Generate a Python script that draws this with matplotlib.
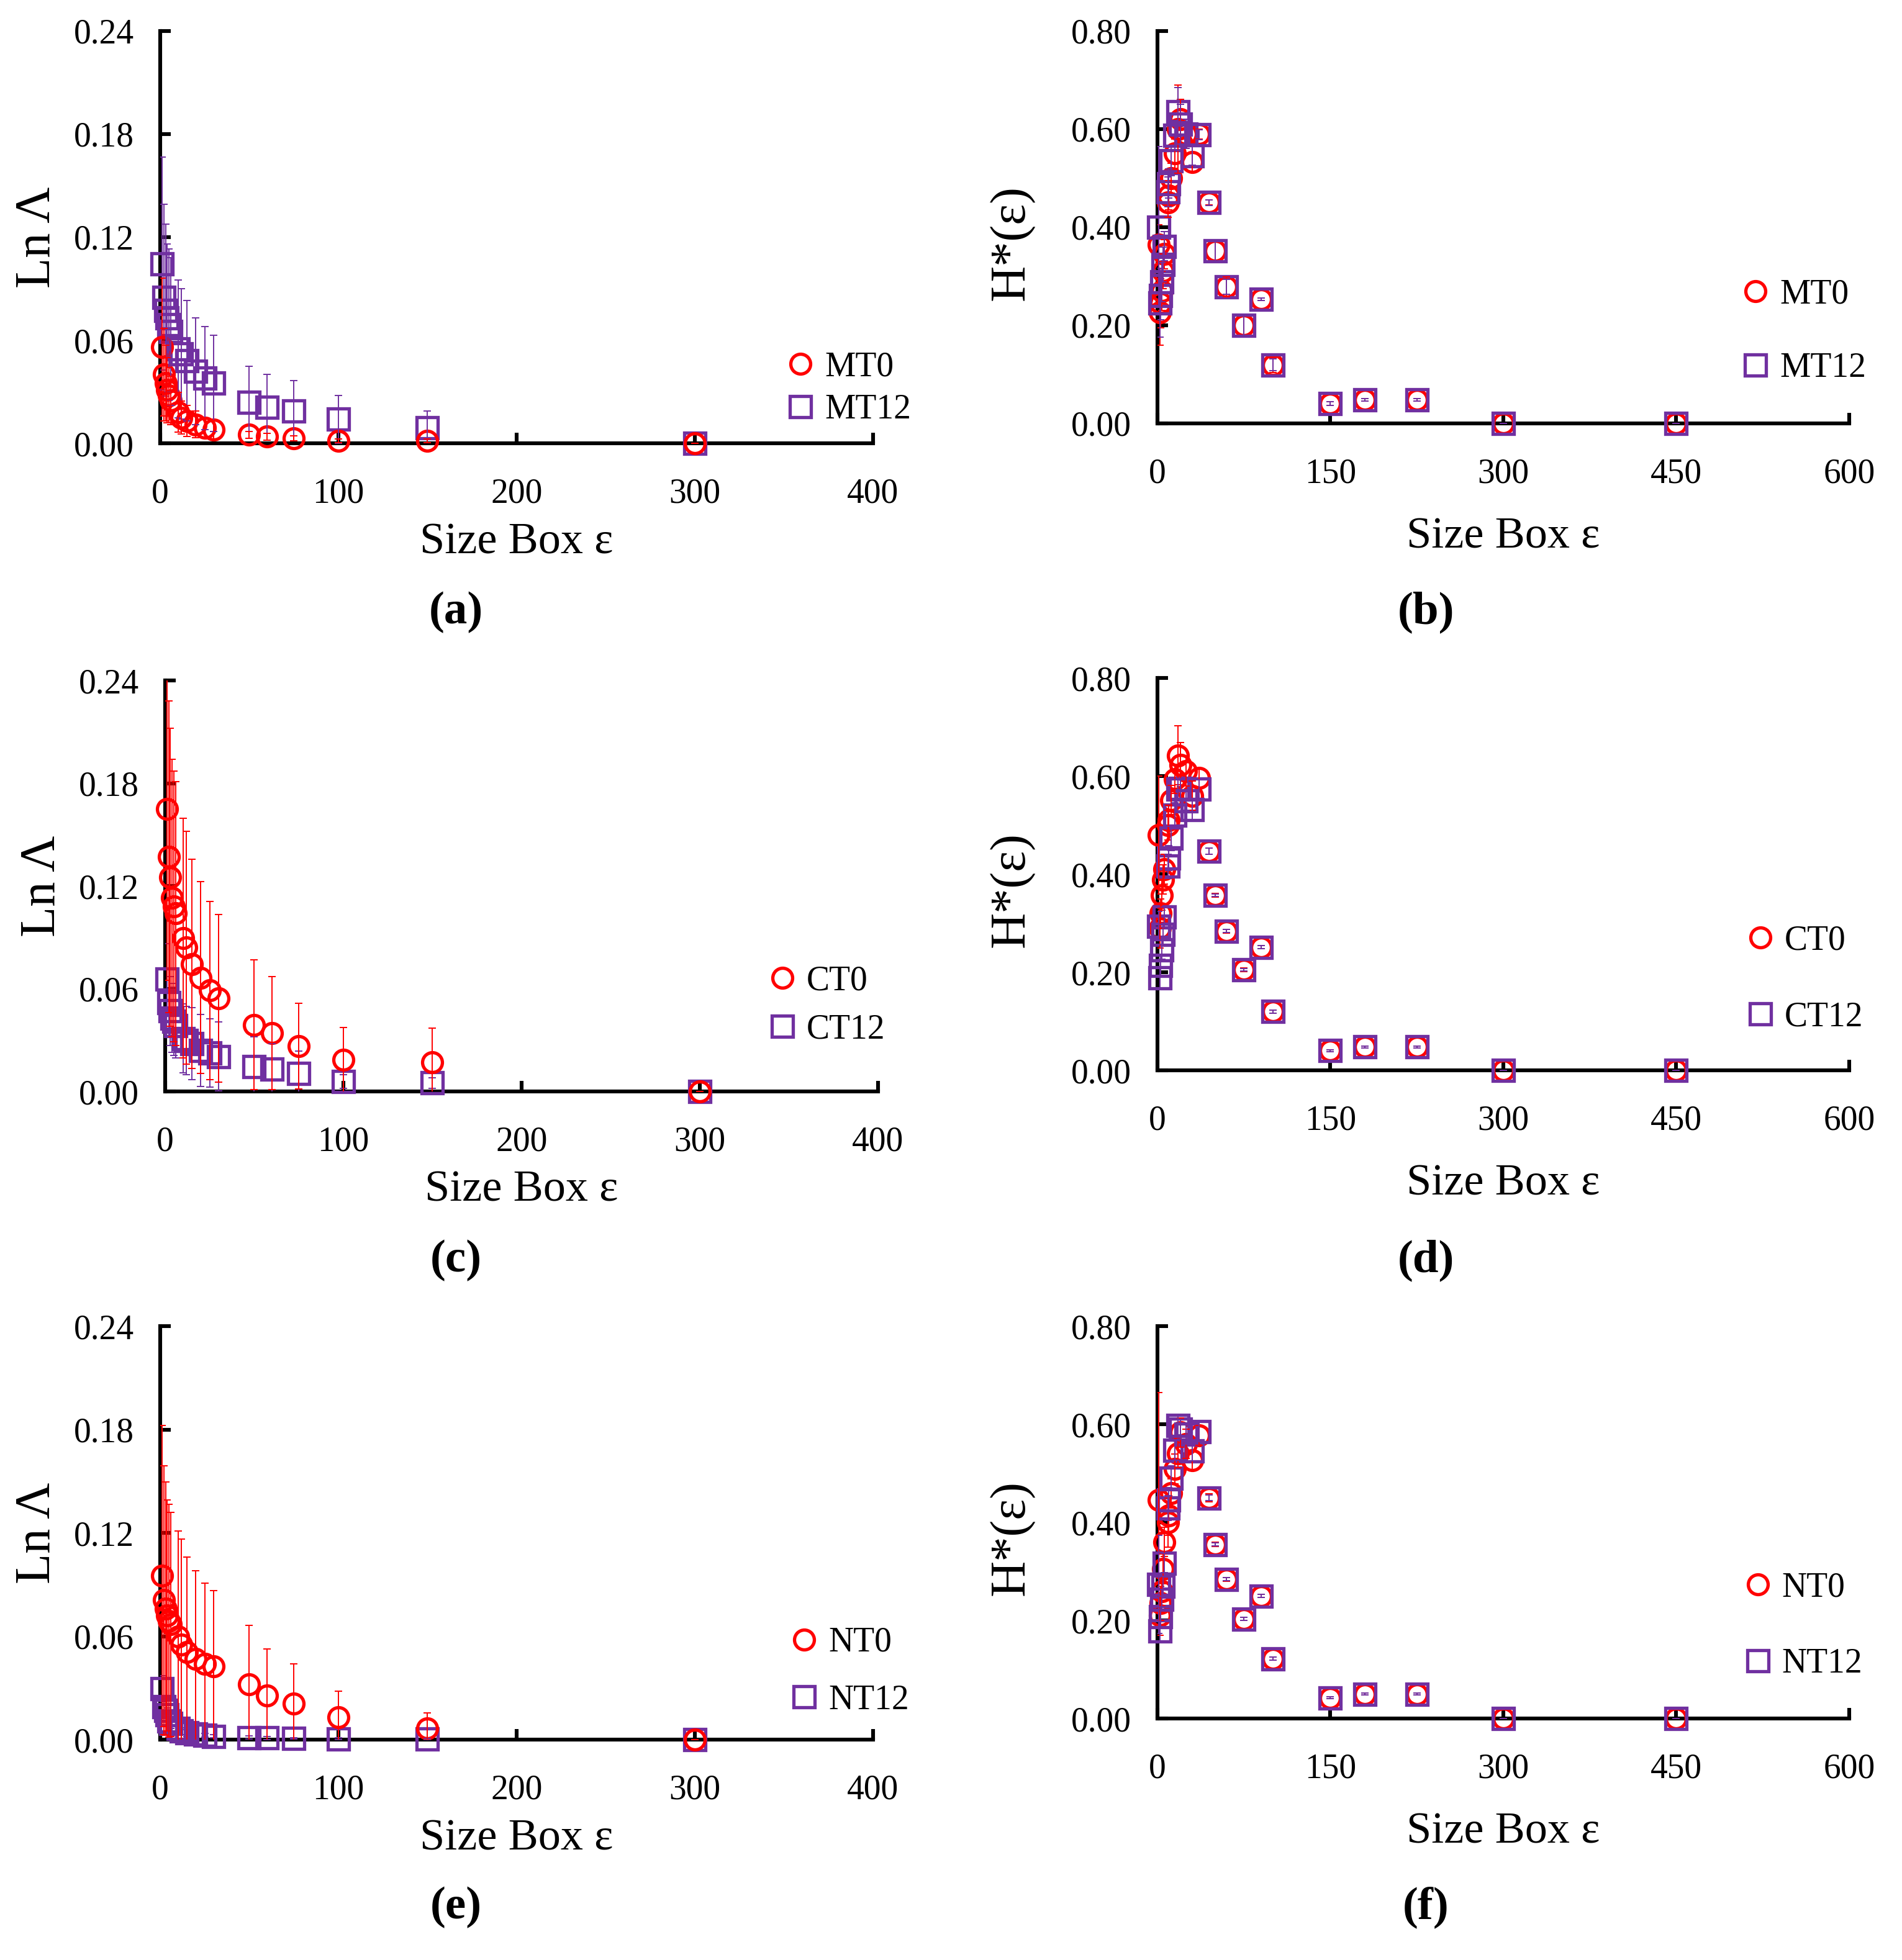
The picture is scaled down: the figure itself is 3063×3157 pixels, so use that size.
import numpy as np
import matplotlib.pyplot as plt
from matplotlib.ticker import FormatStrFormatter

plt.rcParams['font.family'] = ['Liberation Serif', 'DejaVu Serif']

RED = '#FF0000'
PURPLE = '#7030A0'

# ---- lacunarity panels (a), (c), (e) ----
box_l = [1, 2, 3, 4, 5, 6, 10, 12, 15, 20, 25, 30, 50, 60, 75, 100, 150, 300]

mt0 = [0.056, 0.040, 0.035, 0.031, 0.028, 0.025, 0.018, 0.015, 0.013, 0.011, 0.009, 0.008,
       0.005, 0.004, 0.003, 0.0015, 0.0015, 0.0]
mt0_err = [0.040, 0.027, 0.022, 0.019, 0.016, 0.014, 0.0115, 0.0095, 0.009, 0.0077, 0.006, 0.0054,
           0.002, 0.002, 0.0015, 0.001, 0.001, 0.0]
mt12 = [0.1045, 0.085, 0.0775, 0.073, 0.069, 0.065, 0.055, 0.052, 0.048, 0.042, 0.038, 0.035,
        0.024, 0.021, 0.019, 0.014, 0.009, 0.0]
mt12_err = [0.062, 0.054, 0.050, 0.043, 0.044, 0.043, 0.040, 0.038, 0.035, 0.031, 0.030, 0.028,
            0.021, 0.019, 0.0175, 0.014, 0.010, 0.0]

ct0 = [0.165, 0.137, 0.125, 0.113, 0.108, 0.104, 0.0895, 0.084, 0.0745, 0.0665, 0.059, 0.0545,
       0.039, 0.034, 0.0265, 0.0185, 0.017, 0.0]
ct0_err = [0.10, 0.091, 0.087, 0.081, 0.079, 0.077, 0.070, 0.068, 0.061, 0.056, 0.052, 0.049,
           0.038, 0.033, 0.025, 0.019, 0.020, 0.0]
ct12 = [0.0655, 0.052, 0.047, 0.043, 0.041, 0.0385, 0.031, 0.0297, 0.028, 0.024, 0.0225, 0.0205,
        0.0145, 0.013, 0.0105, 0.0057, 0.005, 0.0]
ct12_err = [0.021, 0.020, 0.020, 0.020, 0.020, 0.019, 0.020, 0.020, 0.021, 0.021, 0.020, 0.020,
            0.0175, 0.015, 0.013, 0.004, 0.003, 0.0]

nt0 = [0.095, 0.081, 0.076, 0.072, 0.069, 0.067, 0.060, 0.055, 0.051, 0.047, 0.044, 0.0425,
       0.032, 0.0255, 0.021, 0.013, 0.0065, 0.0]
nt0_err = [0.0875, 0.078, 0.0735, 0.067, 0.0675, 0.065, 0.061, 0.0615, 0.055, 0.051, 0.047, 0.044,
           0.0345, 0.027, 0.023, 0.015, 0.009, 0.0]
nt12 = [0.0295, 0.019, 0.017, 0.0145, 0.011, 0.0095, 0.0065, 0.005, 0.004, 0.0032, 0.0025, 0.002,
        0.0013, 0.001, 0.0008, 0.0005, 0.0003, 0.0]
nt12_err = [0.0075, 0.005, 0.004, 0.004, 0.003, 0.003, 0.002, 0.002, 0.002, 0.0015, 0.001, 0.001,
            0.001, 0.001, 0.0005, 0.0005, 0.0005, 0.0]

# ---- entropy panels (b), (d), (f) ----
box_r = [1, 2, 3, 4, 5, 6, 9, 10, 12, 15, 18, 20, 25, 30, 36,
         45, 50, 60, 75, 90, 100, 150, 180, 225, 300, 450]

mt0_h = [0.365, 0.227, 0.245, 0.27, 0.31, 0.345, 0.45, 0.465, 0.50, 0.55, 0.60, 0.62, 0.59, 0.533, 0.59,
         0.45, 0.352, 0.278, 0.20, 0.253, 0.119, 0.0405, 0.048, 0.048, 0.0, 0.0]
mt0_h_err = [0.04, 0.067, 0.05, 0.04, 0.035, 0.03, 0.03, 0.03, 0.03, 0.03, 0.09, 0.04, 0.03, 0.02, 0.01,
             0.005, 0.02, 0.02, 0.02, 0.003, 0.015, 0.004, 0.003, 0.003, 0.0, 0.0]
mt12_h = [0.40, 0.246, 0.261, 0.288, 0.324, 0.361, 0.472, 0.489, 0.535, 0.587, 0.635, 0.61, 0.59, 0.546, 0.588,
          0.45, 0.352, 0.278, 0.20, 0.253, 0.119, 0.0405, 0.048, 0.048, 0.0, 0.0]
mt12_h_err = [0.164, 0.07, 0.05, 0.04, 0.035, 0.03, 0.03, 0.03, 0.03, 0.03, 0.05, 0.04, 0.03, 0.02, 0.01,
              0.006, 0.02, 0.015, 0.02, 0.003, 0.012, 0.004, 0.003, 0.003, 0.0, 0.0]

ct0_h = [0.48, 0.29, 0.32, 0.357, 0.389, 0.41, 0.50, 0.51, 0.551, 0.594, 0.642, 0.623, 0.61, 0.56, 0.596,
         0.447, 0.357, 0.284, 0.205, 0.251, 0.12, 0.04, 0.048, 0.048, 0.0, 0.0]
ct0_h_err = [0.12, 0.04, 0.03, 0.03, 0.03, 0.03, 0.03, 0.03, 0.03, 0.03, 0.06, 0.045, 0.03, 0.03, 0.02,
             0.006, 0.004, 0.004, 0.004, 0.003, 0.003, 0.002, 0.002, 0.002, 0.0, 0.0]
ct12_h = [0.294, 0.189, 0.214, 0.246, 0.277, 0.313, 0.416, 0.433, 0.473, 0.52, 0.573, 0.575, 0.55, 0.532, 0.573,
          0.447, 0.357, 0.284, 0.205, 0.251, 0.12, 0.04, 0.048, 0.048, 0.0, 0.0]
ct12_h_err = [0.03, 0.02, 0.02, 0.02, 0.02, 0.02, 0.025, 0.025, 0.025, 0.025, 0.02, 0.02, 0.02, 0.022, 0.02,
              0.006, 0.003, 0.003, 0.003, 0.003, 0.003, 0.002, 0.002, 0.002, 0.0, 0.0]

nt0_h = [0.445, 0.21, 0.235, 0.26, 0.305, 0.36, 0.40, 0.414, 0.459, 0.509, 0.541, 0.583, 0.56, 0.526, 0.577,
         0.45, 0.355, 0.284, 0.203, 0.25, 0.122, 0.042, 0.05, 0.05, 0.0, 0.0]
nt0_h_err = [0.22, 0.04, 0.035, 0.03, 0.03, 0.03, 0.05, 0.04, 0.03, 0.03, 0.03, 0.03, 0.03, 0.02, 0.02,
             0.008, 0.004, 0.004, 0.003, 0.003, 0.003, 0.002, 0.002, 0.002, 0.0, 0.0]
nt12_h = [0.273, 0.178, 0.208, 0.243, 0.27, 0.317, 0.429, 0.446, 0.49, 0.547, 0.598, 0.59, 0.58, 0.545, 0.585,
          0.45, 0.355, 0.284, 0.203, 0.25, 0.122, 0.042, 0.05, 0.05, 0.0, 0.0]
nt12_h_err = [0.10, 0.02, 0.02, 0.02, 0.02, 0.02, 0.025, 0.025, 0.025, 0.02, 0.02, 0.02, 0.02, 0.02, 0.02,
              0.006, 0.003, 0.003, 0.003, 0.003, 0.003, 0.002, 0.002, 0.002, 0.0, 0.0]

# stray grey horizontal bar at the last point of panel (c)
grey_bar_x = 300
grey_bar_half = 18


def series(ax, x, y, err, color, marker, ms, label):
    ax.errorbar(x, y, yerr=err, fmt='none', ecolor=color, elinewidth=0.7,
                capsize=2, capthick=0.7, zorder=4)
    line, = ax.plot(x, y, linestyle='none', marker=marker, ms=ms, mfc='none',
                    mec=color, mew=1.9, clip_on=False, zorder=3, label=label)
    return line


def style(ax, xmax, xticks, ymax, yticks, ylabel):
    ax.set_xlim(0, xmax)
    ax.set_ylim(0, ymax)
    ax.set_xticks(xticks)
    ax.set_yticks(yticks)
    ax.yaxis.set_major_formatter(FormatStrFormatter('%.2f'))
    for s in ['top', 'right']:
        ax.spines[s].set_visible(False)
    for s in ['left', 'bottom']:
        ax.spines[s].set_linewidth(2.2)
    ax.tick_params(direction='in', length=6, width=2.2, labelsize=20)
    ax.tick_params(axis='x', pad=20)
    ax.tick_params(axis='y', pad=15)
    ax.set_xlabel('Size Box ε', fontsize=26)
    ax.set_ylabel(ylabel, fontsize=29)
    ax.xaxis.label.set_verticalalignment('center')
    ax.yaxis.label.set_verticalalignment('center')


fig = plt.figure(figsize=(15.315, 15.785), dpi=200)

left_rects = [[0.0842, 0.7738, 0.3748, 0.2104],
              [0.0868, 0.4431, 0.3748, 0.2097],
              [0.0842, 0.1124, 0.3748, 0.2110]]
right_rects = [[0.6085, 0.7840, 0.3637, 0.2002],
               [0.6085, 0.4539, 0.3637, 0.2002],
               [0.6085, 0.1232, 0.3637, 0.2002]]

left_data = [(mt0, mt0_err, mt12, mt12_err, 'MT0', 'MT12'),
             (ct0, ct0_err, ct12, ct12_err, 'CT0', 'CT12'),
             (nt0, nt0_err, nt12, nt12_err, 'NT0', 'NT12')]
right_data = [(mt0_h, mt0_h_err, mt12_h, mt12_h_err, 'MT0', 'MT12'),
              (ct0_h, ct0_h_err, ct12_h, ct12_h_err, 'CT0', 'CT12'),
              (nt0_h, nt0_h_err, nt12_h, nt12_h_err, 'NT0', 'NT12')]

left_leg = [((0.855, 0.1325), 0.3), ((0.822, 0.21), 0.47), ((0.86, 0.165), 0.73)]
right_leg = [((0.82, 0.234), 1.2), ((0.827, 0.233), 1.27), ((0.823, 0.236), 1.27)]

for i in range(3):
    # left column: lacunarity
    ax = fig.add_axes(left_rects[i])
    y0, e0, y1, e1, l0, l1 = left_data[i]
    h1 = series(ax, box_l, y1, e1, PURPLE, 's', 12, l1)
    h0 = series(ax, box_l, y0, e0, RED, 'o', 11.5, l0)
    if i == 1:
        ax.errorbar(grey_bar_x, 0, xerr=grey_bar_half, fmt='none', ecolor='#BFBFBF',
                    elinewidth=0.8, capsize=0, zorder=2, clip_on=False)
    style(ax, 400, [0, 100, 200, 300, 400], 0.24, np.arange(0, 0.241, 0.06), 'Ln Λ')
    ax.xaxis.set_label_coords(0.5, -0.24)
    ax.yaxis.set_label_coords(-0.172, 0.5)
    (lx, ly), sp = left_leg[i]
    ax.legend(handles=[h0, h1], loc='center left', bbox_to_anchor=(lx, ly), frameon=False,
              fontsize=20, borderpad=0, handlelength=0.8, handletextpad=0.3, labelspacing=sp)

    # right column: entropy
    ax = fig.add_axes(right_rects[i])
    y0, e0, y1, e1, l0, l1 = right_data[i]
    h0 = series(ax, box_r, y0, e0, RED, 'o', 11.5, l0)
    h1 = series(ax, box_r, y1, e1, PURPLE, 's', 12, l1)
    style(ax, 600, [0, 150, 300, 450, 600], 0.80, np.arange(0, 0.801, 0.20), 'H*(ε)')
    ax.xaxis.set_label_coords(0.5, -0.29)
    ax.yaxis.set_label_coords(-0.21, 0.46)
    (lx, ly), sp = right_leg[i]
    ax.legend(handles=[h0, h1], loc='center left', bbox_to_anchor=(lx, ly), frameon=False,
              fontsize=20, borderpad=0, handlelength=0.8, handletextpad=0.3, labelspacing=sp)

panel_y = [0.6877, 0.357, 0.027]
for i, (a, b) in enumerate([('(a)', '(b)'), ('(c)', '(d)'), ('(e)', '(f)')]):
    fig.text(0.2396, panel_y[i], a, ha='center', va='center', fontsize=27, fontweight='bold')
    fig.text(0.7496, panel_y[i], b, ha='center', va='center', fontsize=27, fontweight='bold')

fig.savefig('out.png', dpi=200)
